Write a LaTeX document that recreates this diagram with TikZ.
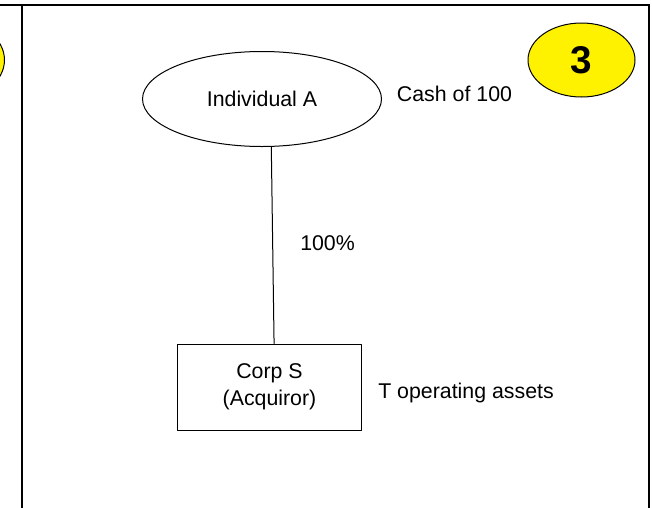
\documentclass[tikz,border=0pt]{standalone}
\usepackage{fontspec}
\setmainfont{Liberation Sans}
\usetikzlibrary{shapes.geometric}

\begin{document}
\begin{tikzpicture}[line cap=round,line join=round
  ,x=0.75pt,y=-0.75pt
  ,every node/.style={font=\fontsize{16}{20.25}\selectfont}
  ,owner/.style={draw,ellipse,line width=0.75pt,minimum width=179.25pt,minimum height=71.25pt,inner sep=0pt}
  ,corp/.style={draw,line width=0.75pt,minimum width=138.3pt,minimum height=64.5pt,align=center,inner sep=0pt}
  ,badge/.style={draw,ellipse,fill=yellow,line width=0.75pt,minimum width=80.25pt,minimum height=55.5pt,inner sep=0pt,font=\fontsize{29}{29}\selectfont\bfseries}
  ,note/.style={anchor=west,inner sep=0pt}]
  \useasboundingbox (0,0) rectangle (652,507);
  % frame of the panel
  \draw[line width=1.5pt,line cap=rect] (0,5) -- (649,5);
  \draw[line width=1.5pt,line cap=rect] (21.5,5) -- (21.5,510);
  \draw[line width=1.5pt,line cap=rect] (649,5) -- (649,510);
  % badges
  \node[badge,minimum height=60pt] (prev) at (-49,60) {};
  \node[badge] (step3) at (581.5,60) {3};
  % owner and corporation
  \node[owner] (indA) at (262,99) {Individual A};
  \node[corp] (corpS) at (269.5,387) {Corp S\\(Acquiror)};
  \draw[line width=0.75pt] (indA.-79) -- (corpS.84);
  % notes
  \node[note] (cash) at (396.7,94) {Cash of 100};
  \node[note] (share) at (300,242.7) {100\%};
  \node[note] (assets) at (378,393) {T operating assets};
\end{tikzpicture}
\end{document}
